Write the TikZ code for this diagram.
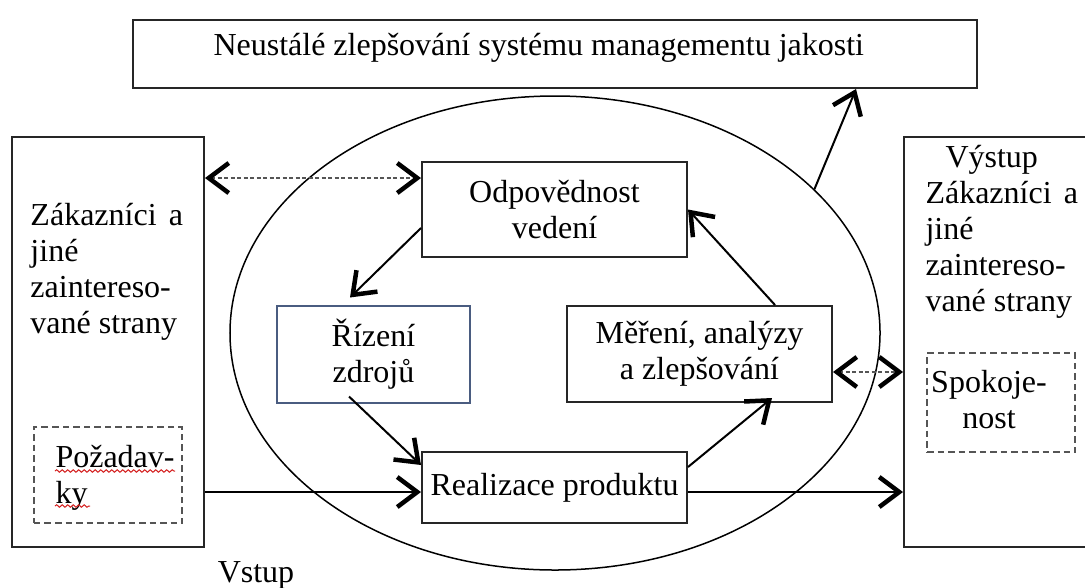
\documentclass[tikz,border=0pt]{standalone}
\usepackage{fontspec}
\setmainfont{Liberation Serif}
\usepackage{tikz}
\usetikzlibrary{arrows.meta, shapes.geometric, decorations.pathmorphing, positioning}
\definecolor{QMSgray}{HTML}{555555}
\definecolor{QMSslate}{HTML}{4A5C80}
\definecolor{QMSred}{HTML}{D42020}

\begin{document}
\begin{tikzpicture}[x=0.4pt, y=-0.4pt]

\tikzset{
  ramec/.style={draw=black!85, line width=0.8pt, inner sep=0pt, align=center,
    font=\fontsize{12.8}{14.4}\selectfont},
  carkovany/.style={draw=QMSgray, line width=0.8pt, dash pattern=on 2.6pt off 1.6pt, inner sep=0pt},
  popis/.style={inner sep=0pt, font=\fontsize{12.8}{14.4}\selectfont},
  hrot/.tip={Straight Barb[length=8pt, width=12pt, line width=1.8pt, color=black]},
  sipka/.style={line width=0.8pt, -hrot},
  obousmer/.style={draw=QMSgray, line width=0.6pt, dash pattern=on 1.6pt off 1pt, hrot-hrot},
  vlnka/.style={QMSred, line width=0.4pt, decorate,
    decoration={snake, amplitude=0.5pt, segment length=2.2pt}},
}

  \path[use as bounding box, clip] (0,0) rectangle (1085,587);

  % ── Top box ───────────────────────────────────────────────
  \node[ramec, minimum width=337.6pt, minimum height=27.2pt] (horni) at (555,54) {};
  \node[popis, anchor=base west] (horninadpis) at (213,55)
    {Neustálé zlepšování systému managementu jakosti};

  % ── Cycle ellipse ─────────────────────────────────────────
  \node[draw, ellipse, line width=0.6pt, minimum width=260pt, minimum height=189.6pt,
    inner sep=0pt] (cyklus) at (555,333) {};

  % ── Left side: input ──────────────────────────────────────
  \node[ramec, minimum width=76.8pt, minimum height=164pt] (leva) at (108,342) {};
  \node[popis, anchor=north west, align=left] (levatext) at (30,203)
    {Zákazníci\hspace{0.38em}a\\jiné\\zaintereso-\\vané strany};
  \node[carkovany, minimum width=59.2pt, minimum height=38.4pt] (pozadavky) at (108,475) {};
  \node[popis, anchor=north west, align=left] (pozadavkytext) at (55,445) {Požadav-\\ky};
  \node[popis, anchor=base] (vstup) at (256,582) {Vstup};

  % spell-check underline
  \foreach \xa/\xb/\yy in {55/175/471, 55/90/506}{
    \draw[vlnka] (\xa,\yy) -- (\xb,\yy);
  }

  % ── Right side: output ────────────────────────────────────
  \node[ramec, minimum width=76.8pt, minimum height=164pt] (prava) at (1000,342) {};
  \node[popis, anchor=north west, align=left] (pravatext) at (925,145)
    {\hspace*{8pt}Výstup\\Zákazníci\hspace{0.38em}a\\jiné\\zaintereso-\\vané strany};
  \node[carkovany, minimum width=59.2pt, minimum height=39.6pt] (spokojenost) at (1001,402.5) {};
  \node[popis, anchor=north, align=center] (spokojenosttext) at (989,370) {Spokoje-\\nost};

  % ── Process boxes ─────────────────────────────────────────
  \node[ramec, fill=white, minimum width=106pt, minimum height=38pt]
    (odpovednost) at (554.5,209.5) {Odpovědnost\\vedení};
  \node[ramec, draw=QMSslate, fill=white, minimum width=77.2pt, minimum height=38.8pt]
    (rizeni) at (373.5,354.5) {Řízení\\zdrojů};
  \node[ramec, fill=white, minimum width=106pt, minimum height=38.4pt]
    (mereni) at (699.5,354) {Měření, analýzy\\a zlepšování};
  \node[ramec, fill=white, minimum width=106pt, minimum height=28.4pt]
    (realizace) at (554.5,487.5) {Realizace produktu};

  % ── Connectors ────────────────────────────────────────────
  \draw[obousmer] ([yshift=12.6pt]odpovednost.west -| leva.east) -- ([yshift=12.6pt]odpovednost.west);
  \draw[sipka] ([yshift=-7.4pt]odpovednost.west) -- ([xshift=-9.4pt, yshift=3pt]rizeni.north);
  \draw[sipka] ([xshift=-9.8pt, yshift=3pt]rizeni.south) -- ([yshift=9pt]realizace.west);
  \draw[sipka] ([yshift=-1.8pt]realizace.west -| leva.east) -- ([yshift=-1.8pt]realizace.west);
  \draw[sipka] ([yshift=8.2pt]realizace.east) -- ([xshift=29pt, yshift=2pt]mereni.south);
  \draw[sipka] ([xshift=30.2pt]mereni.north) -- (odpovednost.east);
  \draw[obousmer] ([yshift=-7.2pt]mereni.east) -- ([yshift=-7.2pt]mereni.east -| prava.west);
  \draw[sipka] ([yshift=-1.8pt]realizace.east) -- ([yshift=-1.8pt]realizace.east -| prava.west);
  \draw[sipka] (cyklus.29) -- ([xshift=-48.8pt]horni.south east);

\end{tikzpicture}
\end{document}
